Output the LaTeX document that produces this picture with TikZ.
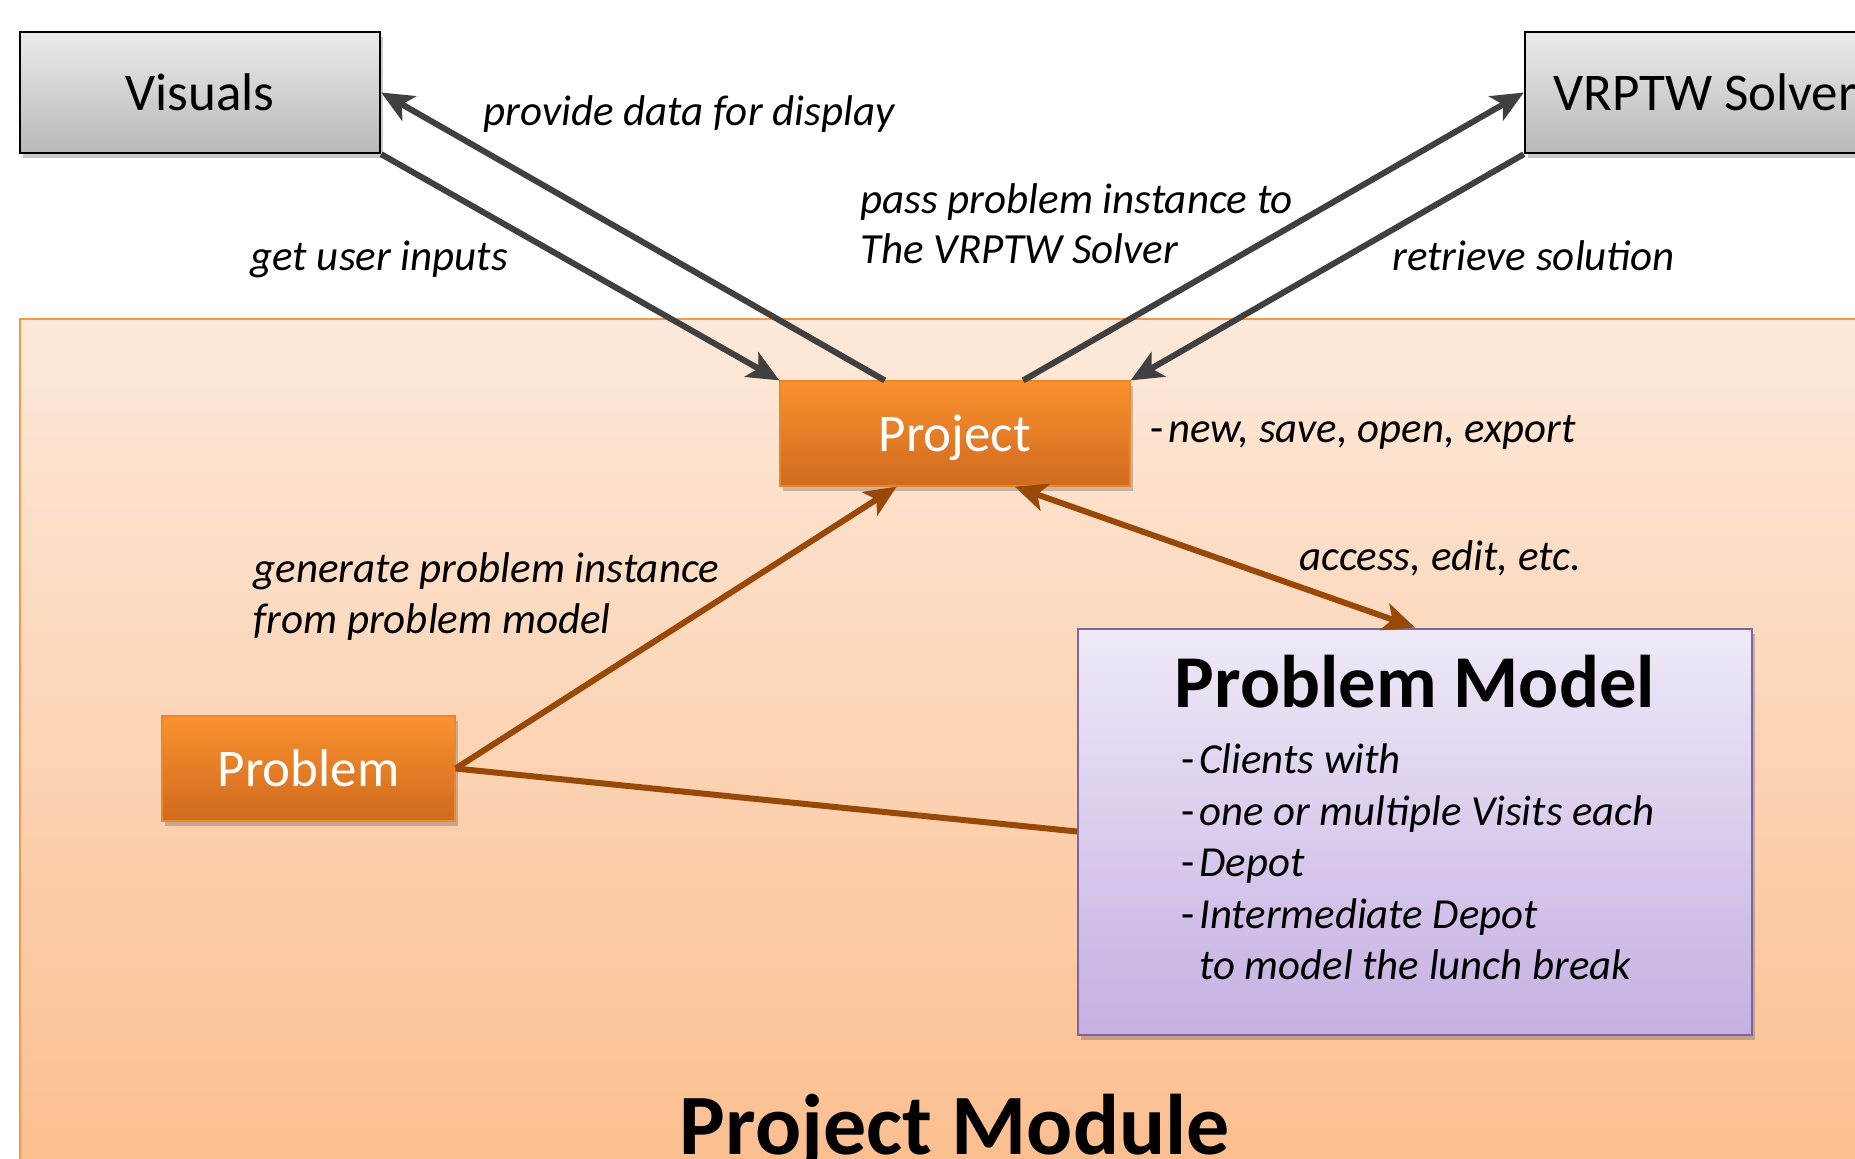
\documentclass[tikz,border=0pt]{standalone}
\usepackage{fontspec}
\setmainfont{Carlito}
\usetikzlibrary{arrows.meta,shadows,calc}

\definecolor{modtop}{HTML}{FDE9DA}
\definecolor{modbot}{HTML}{FBBE8E}
\definecolor{modline}{HTML}{F79646}
\definecolor{oratop}{HTML}{FA922E}
\definecolor{orabot}{HTML}{CF6A1F}
\definecolor{graytop}{HTML}{EBEBEB}
\definecolor{graybot}{HTML}{B8B8B8}
\definecolor{lavtop}{HTML}{EFE9F7}
\definecolor{lavbot}{HTML}{C4B0E2}
\definecolor{lavline}{HTML}{8064A2}
\definecolor{darkarrow}{HTML}{404040}
\definecolor{brownarrow}{HTML}{984807}

\tikzset{
  tiphead/.tip={Stealth[length=16pt, width=14pt, inset=4pt]},
  boxshadow/.style={drop shadow={shadow xshift=1.5pt, shadow yshift=-2.5pt, opacity=0.3, fill=black!70}},
  graybox/.style={draw=black, line width=1.2pt, top color=graytop, bottom color=graybot,
    inner sep=0pt, font=\fontsize{26.5}{31}\selectfont, boxshadow},
  orangebox/.style={draw=oratop!70!orabot, line width=0.6pt, top color=oratop, bottom color=orabot,
    inner sep=0pt, text depth=0pt, text=white, font=\fontsize{26.5}{31}\selectfont, boxshadow},
  modelbox/.style={draw=lavline, line width=1pt, top color=lavtop, bottom color=lavbot,
    inner sep=0pt, boxshadow},
  darkflow/.style={draw=darkarrow, line width=3pt, -{tiphead}},
  brownflow/.style={draw=brownarrow, line width=3pt, -{tiphead}},
  brownlink/.style={draw=brownarrow, line width=3pt},
  flowlabel/.style={anchor=base west, inner sep=0pt, font=\fontsize{21.5}{26}\selectfont\itshape},
  itemline/.style={anchor=base west, inner sep=0pt, font=\fontsize{21.4}{26}\selectfont},
}

\newcommand{\dashitem}[1]{\makebox[9pt][l]{-}\textit{#1}}

\begin{document}
\begin{tikzpicture}[x=0.5pt, y=-0.5pt]
\useasboundingbox (0,0) rectangle (1855,1158);
\clip (0,0) rectangle (1855,1158);

% project module area
\shade[top color=modtop, bottom color=modbot] (20,319) rectangle (1880,1180);
\draw[modline, line width=1pt] (1880,319) -- (20,319) -- (20,1180);
\node[anchor=base, inner sep=0pt, font=\fontsize{43}{51}\selectfont\bfseries] (modtitle) at (955,1154) {Project Module};

% boxes
\node[graybox, minimum width=180pt, minimum height=60.5pt] (vis) at (200,92.5) {Visuals};
\node[graybox, minimum width=180pt, minimum height=60.5pt] (sol) at (1705,92.5) {VRPTW Solver};
\node[orangebox, minimum width=175pt, minimum height=52.5pt] (proj) at (955,433.5) {Project};
\node[orangebox, minimum width=146.5pt, minimum height=52.5pt] (prob) at (308.5,768.5) {Problem};
\node[modelbox, minimum width=337pt, minimum height=203pt] (pm) at (1415,831.5) {};

% problem model contents
\node[anchor=base, inner sep=0pt, font=\fontsize{37.3}{44}\selectfont\bfseries] (pmtitle) at (1415,707) {Problem Model};
\node[itemline] (i1) at (1181,773) {\dashitem{Clients with}};
\node[itemline] (i2) at (1181,825) {\dashitem{one or multiple Visits each}};
\node[itemline] (i3) at (1181,876) {\dashitem{Depot}};
\node[itemline] (i4) at (1181,928) {\dashitem{Intermediate Depot}};
\node[itemline] (i5) at (1181,979) {\makebox[9pt][l]{}\textit{to model the lunch break}};

% project side note
\node[itemline] (note) at (1150,442) {\dashitem{new, save, open, export}};

% connectors
\draw[darkflow] (vis.south east) -- (proj.north west);
\draw[darkflow] ($(proj.north west)!0.3!(proj.north east)$) -- (vis.east);
\draw[darkflow] ($(proj.north west)!0.694!(proj.north east)$) -- (sol.west);
\draw[darkflow] (sol.south west) -- (proj.north east);
\draw[brownflow] (prob.east) -- ($(proj.south west)!0.334!(proj.south east)$);
\draw[brownlink, {tiphead}-{tiphead}] ($(proj.south west)!0.67!(proj.south east)$) -- (pm.north);
\draw[brownlink] (prob.east) -- (pm.west);

% connector labels
\node[flowlabel] (l1) at (483,125) {provide data for display};
\node[flowlabel] (l2) at (250,270) {get user inputs};
\node[flowlabel] (l3) at (860,213) {pass problem instance to};
\node[flowlabel] (l3b) at (860,263) {The VRPTW Solver};
\node[flowlabel] (l4) at (1392,270) {retrieve solution};
\node[flowlabel] (l5) at (253,582) {generate problem instance};
\node[flowlabel] (l5b) at (253,633) {from problem model};
\node[flowlabel] (l6) at (1299,570) {access, edit, etc.};
\end{tikzpicture}
\end{document}
